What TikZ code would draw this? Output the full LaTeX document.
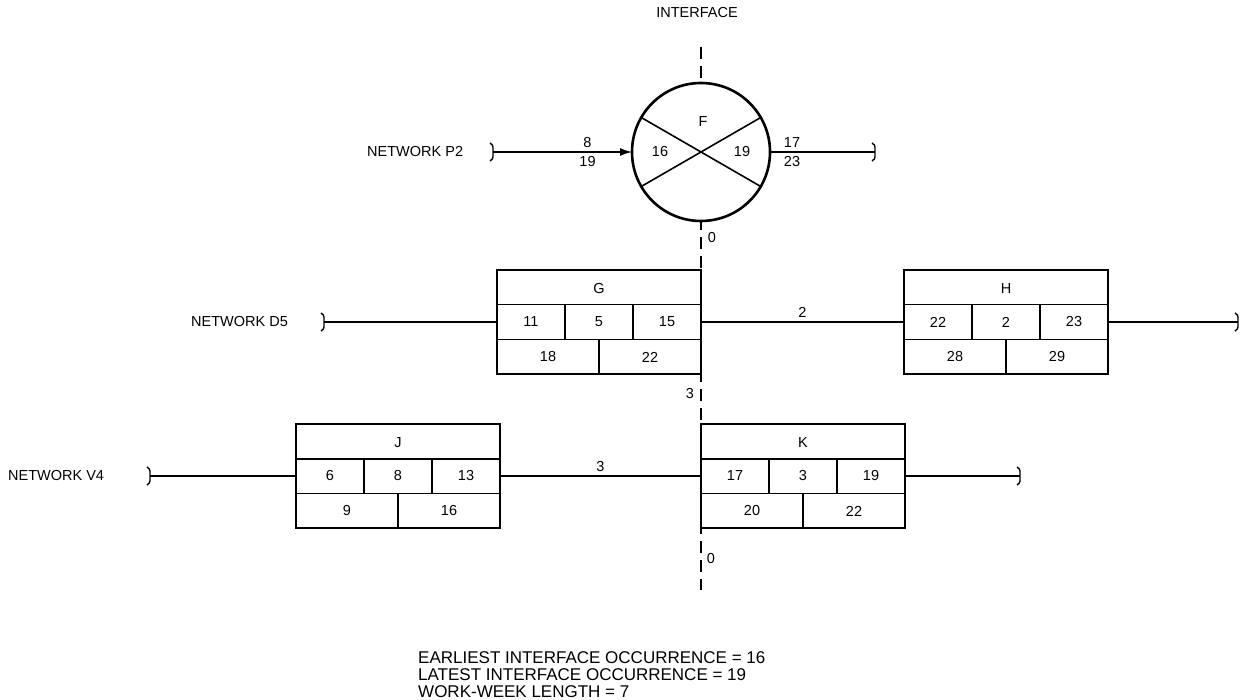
\documentclass[tikz,border=0pt]{standalone}
\usepackage{fontspec}
\setmainfont{Liberation Sans}
\usetikzlibrary{calc,arrows.meta}

\tikzset{
  actbox/.style={draw, line width=2.4pt, fill=white, minimum width=204pt, minimum height=104pt, inner sep=0pt, outer sep=0pt},
  divider/.style={line width=1.6pt},
  link/.style={line width=1.4pt},
  interface/.style={line width=1.5pt, dash pattern=on 12pt off 7pt},
  lineend/.pic={\draw[line width=1.4pt] (-3,-9) .. controls (1,-7) and (0,-3) .. (0,0) .. controls (0,3) and (1,7) .. (-3,9);}
}

% activity box: name, x, y (top left), letter, ES, dur, EF, LS, LF
\newcommand{\actbox}[9]{%
  \node[actbox, anchor=north west] (#1) at (#2,#3) {};
  \begin{scope}[shift={(#1.north west)}]
    \draw[divider] (0,34.7) -- (204,34.7);
    \draw[divider] (0,69.3) -- (204,69.3);
    \draw[divider] (68,34.7) -- (68,69.3);
    \draw[divider] (136,34.7) -- (136,69.3);
    \draw[divider] (102,69.3) -- (102,104);
    \node (#1-name) at (102,19) {#4};
    \node (#1-es) at (34,52) {#5};
    \node (#1-dur) at (102,52) {#6};
    \node (#1-ef) at (170,52) {#7};
    \node (#1-ls) at (51,87) {#8};
    \node (#1-lf) at (153,87) {#9};
  \end{scope}}

\begin{document}
\begin{tikzpicture}[x=1pt, y=-1pt, font=\fontsize{14.5}{17}\selectfont]
  \useasboundingbox (0,0) rectangle (1241,700);

  % interface line
  \coordinate (if-top) at (701,47);
  \coordinate (if-bot) at (701,590);
  \draw[interface] (if-top) -- (if-bot);
  \node (if-label) at (697,13) {INTERFACE};

  % event F
  \node[circle, draw, line width=2.6pt, fill=white, minimum size=138pt, inner sep=0pt, outer sep=0pt] (F) at (701,152) {};
  \draw[divider] (F.150) -- (F.330);
  \draw[divider] (F.30) -- (F.210);
  \node (F-name) at ($(F)+(2,-30)$) {F};
  \node (F-early) at ($(F)+(-41,0)$) {16};
  \node (F-late) at ($(F)+(41,0)$) {19};

  % network P2
  \node[anchor=west, inner sep=0pt] (net-p2) at (367,152) {NETWORK P2};
  \coordinate (p2-in) at (493,152);
  \coordinate (p2-out) at (875,152);
  \draw[link, -{Latex[length=12pt,width=8pt]}] (p2-in) -- (F.west)
    node[pos=0.68, above] (p2-a) {8} node[pos=0.68, below] (p2-b) {19};
  \draw[link] (F.east) -- (p2-out)
    node[pos=0.21, above] (p2-c) {17} node[pos=0.21, below] (p2-d) {23};
  \pic at (p2-in) {lineend};
  \pic at (p2-out) {lineend};

  % network D5
  \actbox{G}{497}{270}{G}{11}{5}{15}{18}{22}
  \actbox{H}{904}{270}{H}{22}{2}{23}{28}{29}
  \node[anchor=west, inner sep=0pt] (net-d5) at (191,322) {NETWORK D5};
  \coordinate (d5-in) at (324,322);
  \coordinate (d5-out) at (1238,322);
  \draw[link] (d5-in) -- (G.west);
  \draw[link] (G.east) -- (H.west) node[midway, above] (gh-lag) {2};
  \draw[link] (H.east) -- (d5-out);
  \pic at (d5-in) {lineend};
  \pic at (d5-out) {lineend};

  % network V4
  \actbox{J}{296}{424}{J}{6}{8}{13}{9}{16}
  \actbox{K}{701}{424}{K}{17}{3}{19}{20}{22}
  \node[anchor=west, inner sep=0pt] (net-v4) at (8,476) {NETWORK V4};
  \coordinate (v4-in) at (150,476);
  \coordinate (v4-out) at (1020,476);
  \draw[link] (v4-in) -- (J.west);
  \draw[link] (J.east) -- (K.west) node[midway, above] (jk-lag) {3};
  \draw[link] (K.east) -- (v4-out);
  \pic at (v4-in) {lineend};
  \pic at (v4-out) {lineend};

  % lags on the interface
  \node (if-lag1) at (712,238) {0};
  \node (if-lag2) at (690,394) {3};
  \node (if-lag3) at (711,559) {0};

  % summary
  \node[anchor=west, align=left, inner sep=0pt, font=\fontsize{17}{17}\selectfont] (summary) at (418,675)
    {EARLIEST INTERFACE OCCURRENCE = 16\\LATEST INTERFACE OCCURRENCE = 19\\WORK-WEEK LENGTH = 7};
\end{tikzpicture}
\end{document}
